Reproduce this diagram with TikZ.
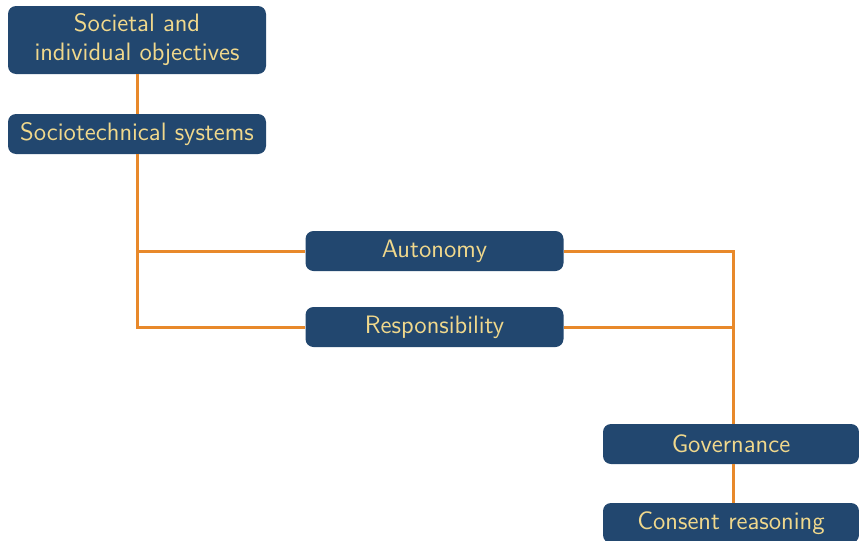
\documentclass[tikz,border=0pt]{standalone}
\usetikzlibrary{calc}
\definecolor{boxblue}{RGB}{34,71,111}
\definecolor{boxtext}{RGB}{240,216,140}
\definecolor{linkorange}{RGB}{232,137,42}
\begin{document}
\begin{tikzpicture}[x=0.5pt,y=-0.5pt,
  box/.style={draw=none,fill=boxblue,text=boxtext,rounded corners=4pt,
    minimum width=129pt,minimum height=20pt,inner sep=0pt,align=center,
    font=\sffamily\fontsize{12.6}{14.5}\selectfont},
  link/.style={draw=linkorange,line width=1.5pt}]
\useasboundingbox (0,0) rectangle (859,541);
\node[box,minimum height=34pt] (obj) at (137,40) {Societal and\\individual objectives};
\node[box] (soc) at (137,134) {Sociotechnical systems};
\node[box] (aut) at (434.5,251) {Autonomy};
\node[box] (res) at (434.5,327) {Responsibility};
\node[box,minimum width=128pt] (gov) at (731,444) {Governance};
\node[box,minimum width=128pt] (con) at (731,523) {Consent reasoning};
\coordinate (lj) at (137,327);
\coordinate (rj) at (733,251);
\draw[link] (obj.south) -- (soc.north);
\draw[link] (soc.south) -- (lj) -- (res.west);
\draw[link] (soc.south |- aut.west) -- (aut.west);
\draw[link] (aut.east) -- (rj) -- (rj |- gov.north);
\draw[link] (res.east) -- (rj |- res.east);
\draw[link] (gov.south -| rj) -- (con.north -| rj);
\end{tikzpicture}
\end{document}
